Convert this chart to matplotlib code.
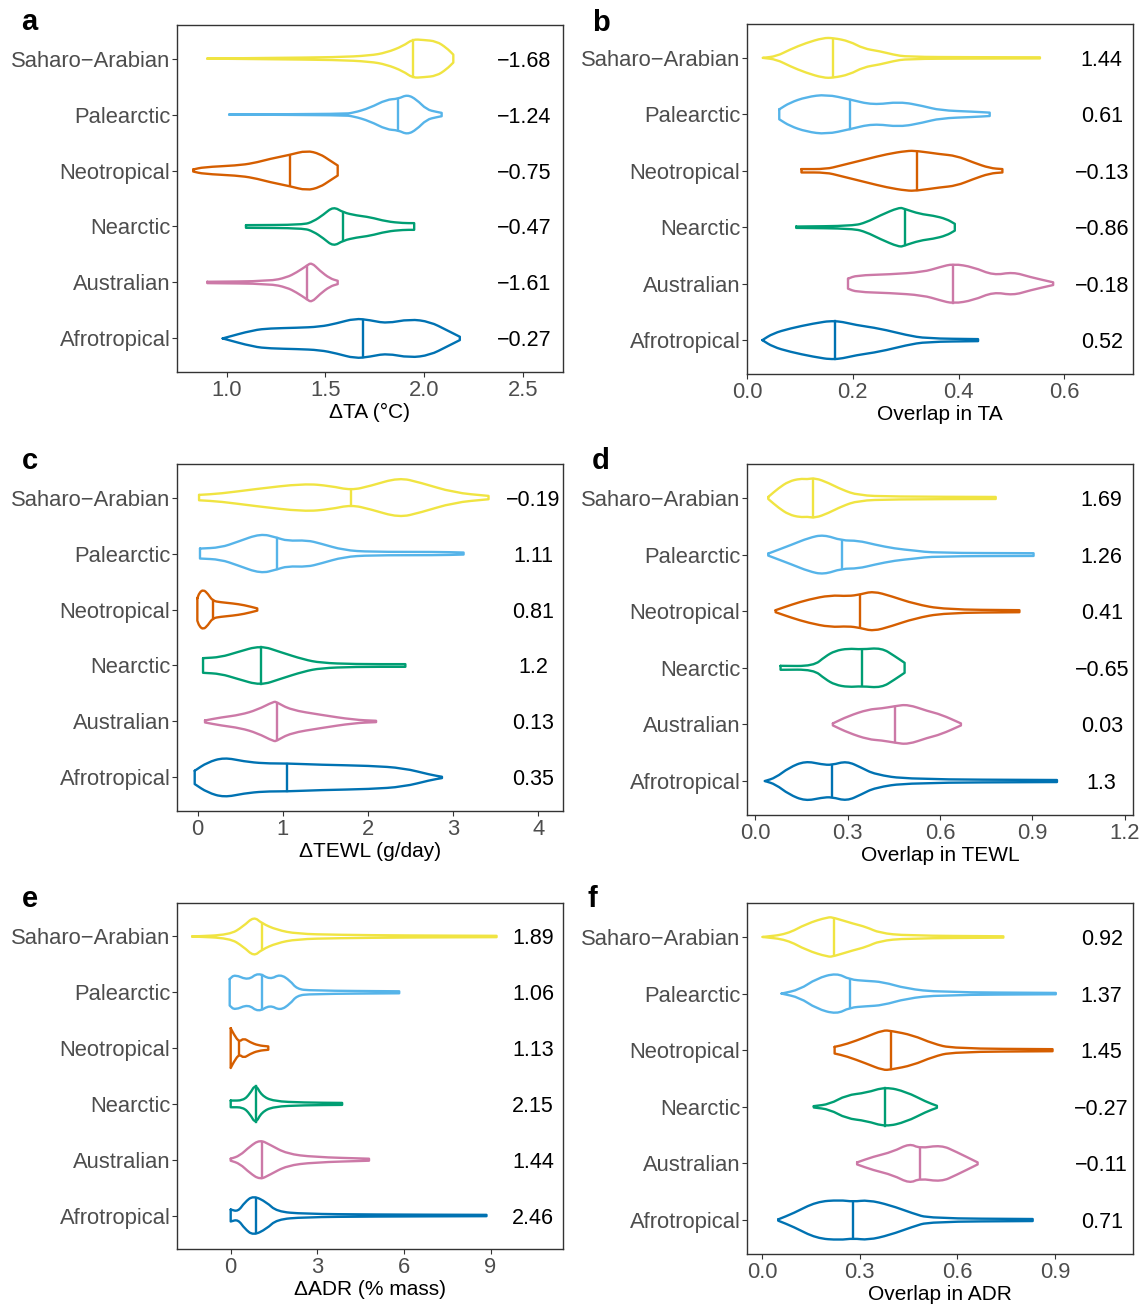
#!/usr/bin/env python3
"""
Violin panels (a-f): change in thermal/water traits and their overlap,
by zoogeographic region. Outlines only, median line, skewness on the right.
"""
import numpy as np
import matplotlib
matplotlib.use("Agg")
import matplotlib.pyplot as plt
from matplotlib.path import Path
from matplotlib.patches import PathPatch

plt.rcParams["font.family"] = ["Liberation Sans", "DejaVu Sans"]

W, H = 1144, 1304

# regions, top to bottom
REGIONS = ["Saharo\u2212Arabian", "Palearctic", "Neotropical", "Nearctic",
           "Australian", "Afrotropical"]
COLORS = ["#F0E442", "#56B4E9", "#D55E00", "#009E73", "#CC79A7", "#0072B2"]

# --- panel a: dTA ---
TA_X = [
    [0.902, 1.219, 1.556, 1.725, 1.809, 1.894, 1.941, 1.995, 2.062, 2.113, 2.147],
    [1.013, 1.590, 1.641, 1.725, 1.809, 1.868, 1.914, 1.961, 2.012, 2.062, 2.088],
    [0.831, 0.882, 1.051, 1.135, 1.219, 1.320, 1.405, 1.472, 1.523, 1.562],
    [1.098, 1.388, 1.438, 1.489, 1.540, 1.590, 1.658, 1.725, 1.809, 1.894, 1.949],
    [0.902, 1.219, 1.304, 1.354, 1.405, 1.430, 1.472, 1.523, 1.562],
    [0.980, 1.135, 1.219, 1.354, 1.472, 1.556, 1.649, 1.725, 1.809, 1.927, 2.029, 2.113, 2.180],
]
TA_W = [
    [0, 0.012, 0.024, 0.054, 0.107, 0.226, 0.345, 0.333, 0.31, 0.19, 0.071],
    [0, 0.012, 0.03, 0.119, 0.268, 0.28, 0.357, 0.268, 0.089, 0.048, 0.03],
    [0.018, 0.06, 0.09, 0.13, 0.208, 0.28, 0.357, 0.298, 0.179, 0.09],
    [0.024, 0.03, 0.089, 0.208, 0.357, 0.25, 0.196, 0.167, 0.089, 0.06, 0.06],
    [0.012, 0.024, 0.089, 0.179, 0.298, 0.357, 0.208, 0.071, 0.03],
    [0, 0.149, 0.179, 0.19, 0.208, 0.268, 0.357, 0.327, 0.268, 0.345, 0.298, 0.149, 0.03],
]
TA_MED = [1.944, 1.868, 1.320, 1.590, 1.408, 1.688]
TA_SKEW = ["\u22121.68", "\u22121.24", "\u22120.75", "\u22120.47", "\u22121.61", "\u22120.27"]

# --- panel b: overlap in TA ---
OTA_X = [
    [0.030, 0.056, 0.081, 0.112, 0.144, 0.163, 0.194, 0.220, 0.251, 0.276, 0.302, 0.428, 0.554],
    [0.061, 0.081, 0.112, 0.150, 0.194, 0.238, 0.289, 0.333, 0.365, 0.428, 0.459],
    [0.103, 0.150, 0.175, 0.226, 0.264, 0.302, 0.321, 0.365, 0.396, 0.428, 0.459, 0.483],
    [0.093, 0.201, 0.226, 0.251, 0.288, 0.298, 0.327, 0.352, 0.377, 0.393],
    [0.191, 0.207, 0.270, 0.333, 0.365, 0.390, 0.428, 0.466, 0.503, 0.535, 0.579],
    [0.029, 0.049, 0.081, 0.125, 0.166, 0.207, 0.251, 0.302, 0.339, 0.437],
]
OTA_W = [
    [0, 0.029, 0.147, 0.265, 0.353, 0.353, 0.294, 0.165, 0.118, 0.059, 0.018, 0.012, 0.01],
    [0.088, 0.206, 0.306, 0.353, 0.265, 0.165, 0.224, 0.147, 0.071, 0.047, 0.03],
    [0.03, 0.03, 0.088, 0.206, 0.294, 0.353, 0.353, 0.294, 0.265, 0.147, 0.047, 0.03],
    [0.012, 0.024, 0.088, 0.206, 0.353, 0.324, 0.235, 0.206, 0.147, 0.06],
    [0.088, 0.147, 0.165, 0.206, 0.294, 0.353, 0.294, 0.147, 0.206, 0.118, 0.024],
    [0, 0.118, 0.206, 0.294, 0.353, 0.265, 0.206, 0.088, 0.03, 0.018],
]
OTA_MED = [0.163, 0.194, 0.321, 0.298, 0.390, 0.166]
OTA_SKEW = ["1.44", "0.61", "\u22120.13", "\u22120.86", "\u22120.18", "0.52"]

# --- panel c: dTEWL ---
TEWL_X = [
    [0.016, 0.270, 0.661, 1.247, 1.560, 1.803, 2.029, 2.362, 2.616, 3.007, 3.417],
    [0.027, 0.270, 0.465, 0.739, 0.927, 1.052, 1.286, 1.443, 1.717, 2.029, 2.811, 3.124],
    [-0.004, 0.020, 0.066, 0.121, 0.175, 0.270, 0.407, 0.544, 0.700],
    [0.063, 0.270, 0.465, 0.739, 0.974, 1.247, 1.443, 1.834, 2.440],
    [0.086, 0.270, 0.504, 0.700, 0.895, 0.927, 1.091, 1.443, 1.834, 2.096],
    [-0.035, 0.113, 0.309, 0.544, 0.778, 1.044, 1.443, 2.029, 2.420, 2.733, 2.870],
]
TEWL_W = [
    [0.048, 0.071, 0.149, 0.25, 0.208, 0.131, 0.208, 0.357, 0.268, 0.089, 0.03],
    [0.089, 0.107, 0.208, 0.357, 0.286, 0.226, 0.238, 0.179, 0.06, 0.03, 0.03, 0.018],
    [0.2, 0.3, 0.357, 0.28, 0.155, 0.13, 0.11, 0.08, 0.02],
    [0.131, 0.149, 0.238, 0.357, 0.238, 0.107, 0.048, 0.024, 0.024],
    [0.018, 0.071, 0.119, 0.208, 0.357, 0.345, 0.208, 0.119, 0.03, 0.012],
    [0.119, 0.268, 0.357, 0.286, 0.25, 0.25, 0.226, 0.208, 0.167, 0.048, 0.012],
]
TEWL_MED = [1.803, 0.927, 0.175, 0.739, 0.927, 1.044]
TEWL_SKEW = ["\u22120.19", "1.11", "0.81", "1.2", "0.13", "0.35"]

# --- panel d: overlap in TEWL ---
OTEWL_X = [
    [0.042, 0.076, 0.109, 0.146, 0.168, 0.195, 0.238, 0.281, 0.334, 0.442, 0.781],
    [0.042, 0.119, 0.173, 0.222, 0.281, 0.334, 0.388, 0.453, 0.517, 0.582, 0.904],
    [0.066, 0.119, 0.173, 0.243, 0.302, 0.340, 0.383, 0.442, 0.517, 0.614, 0.858],
    [0.082, 0.189, 0.227, 0.259, 0.302, 0.345, 0.410, 0.453, 0.485],
    [0.252, 0.302, 0.367, 0.410, 0.455, 0.496, 0.560, 0.603, 0.668],
    [0.031, 0.066, 0.109, 0.162, 0.216, 0.248, 0.297, 0.345, 0.388, 0.496, 0.980],
]
OTEWL_W = [
    [0.018, 0.176, 0.294, 0.341, 0.33, 0.353, 0.265, 0.147, 0.047, 0.024, 0.018],
    [0.018, 0.176, 0.294, 0.353, 0.247, 0.247, 0.176, 0.106, 0.071, 0.03, 0.024],
    [0.018, 0.118, 0.206, 0.282, 0.265, 0.294, 0.353, 0.265, 0.129, 0.03, 0.018],
    [0.035, 0.03, 0.2, 0.3, 0.341, 0.324, 0.353, 0.206, 0.088],
    [0.018, 0.147, 0.265, 0.282, 0.324, 0.353, 0.235, 0.176, 0.018],
    [0, 0.059, 0.235, 0.353, 0.294, 0.282, 0.353, 0.235, 0.118, 0.03, 0.018],
]
OTEWL_MED = [0.187, 0.281, 0.340, 0.345, 0.455, 0.248]
OTEWL_SKEW = ["1.69", "1.26", "0.41", "\u22120.65", "0.03", "1.3"]

# --- panel e: dADR ---
ADR_X = [
    [-1.337, -0.035, 0.430, 0.802, 1.070, 1.593, 2.291, 3.686, 6.012, 9.209],
    [-0.035, 0.140, 0.605, 0.953, 1.360, 1.709, 2.058, 2.291, 2.756, 5.837],
    [0.0, 0.105, 0.291, 0.453, 0.663, 0.953, 1.302],
    [0.0, 0.430, 0.663, 0.860, 1.070, 1.477, 2.523, 3.860],
    [0.0, 0.314, 0.663, 1.012, 1.360, 1.942, 2.872, 4.791],
    [0.0, 0.256, 0.488, 0.779, 1.244, 1.593, 2.523, 4.849, 8.860],
]
ADR_W = [
    [0, 0.03, 0.179, 0.357, 0.238, 0.119, 0.048, 0.03, 0.018, 0.012],
    [0.238, 0.321, 0.214, 0.357, 0.226, 0.327, 0.208, 0.06, 0.03, 0.018],
    [0.357, 0.25, 0.107, 0.179, 0.107, 0.048, 0.03],
    [0.06, 0.06, 0.179, 0.357, 0.149, 0.048, 0.024, 0.018],
    [0.018, 0.071, 0.238, 0.357, 0.268, 0.107, 0.048, 0.018],
    [0.107, 0.071, 0.238, 0.357, 0.238, 0.071, 0.03, 0.018, 0.012],
]
ADR_MED = [1.070, 1.070, 0.291, 0.872, 1.070, 0.872]
ADR_SKEW = ["1.89", "1.06", "1.13", "2.15", "1.44", "2.46"]

# --- panel f: overlap in ADR ---
OADR_X = [
    [0.002, 0.076, 0.137, 0.203, 0.220, 0.280, 0.320, 0.361, 0.443, 0.741],
    [0.060, 0.116, 0.167, 0.229, 0.269, 0.320, 0.371, 0.443, 0.545, 0.902],
    [0.223, 0.259, 0.320, 0.371, 0.397, 0.463, 0.524, 0.586, 0.892],
    [0.159, 0.208, 0.259, 0.320, 0.379, 0.443, 0.504, 0.537],
    [0.292, 0.341, 0.402, 0.453, 0.484, 0.550, 0.596, 0.662],
    [0.050, 0.096, 0.167, 0.239, 0.280, 0.326, 0.392, 0.463, 0.514, 0.831],
]
OADR_W = [
    [0, 0.047, 0.235, 0.353, 0.341, 0.235, 0.176, 0.071, 0.024, 0.012],
    [0, 0.071, 0.265, 0.365, 0.247, 0.224, 0.206, 0.088, 0.024, 0.012],
    [0.059, 0.106, 0.235, 0.353, 0.341, 0.265, 0.118, 0.03, 0.018],
    [0.012, 0.047, 0.206, 0.247, 0.353, 0.265, 0.088, 0.018],
    [0.018, 0.118, 0.206, 0.353, 0.265, 0.324, 0.206, 0.018],
    [0.012, 0.118, 0.324, 0.353, 0.324, 0.353, 0.265, 0.118, 0.03, 0.018],
]
OADR_MED = [0.220, 0.269, 0.397, 0.379, 0.484, 0.280]
OADR_SKEW = ["0.92", "1.37", "1.45", "\u22120.27", "\u22120.11", "0.71"]

LW = 1.7
FS = 15


def smooth_edge(pts):
    # quadratic bezier through midpoints, knots act as control points
    verts = [pts[0], (pts[0] + pts[1]) / 2]
    codes = [Path.LINETO, Path.LINETO]
    for i in range(1, len(pts) - 1):
        verts += [pts[i], (pts[i] + pts[i + 1]) / 2]
        codes += [Path.CURVE3, Path.CURVE3]
    verts.append(pts[-1])
    codes.append(Path.LINETO)
    return verts, codes


def violin(ax, y0, xs, ws, med, color):
    xs = np.asarray(xs, float)
    ws = np.asarray(ws, float)
    top = np.column_stack([xs, y0 + ws])
    bot = np.column_stack([xs, y0 - ws])[::-1]
    v1, c1 = smooth_edge(top)
    v2, c2 = smooth_edge(bot)
    c1[0] = Path.MOVETO
    verts = v1 + v2 + [top[0]]
    codes = c1 + c2 + [Path.LINETO]
    ax.add_patch(PathPatch(Path(verts, codes), fill=False, edgecolor=color,
                           lw=LW, joinstyle="round", capstyle="round"))
    hw = np.interp(med, xs, ws) * 0.95
    ax.plot([med, med], [y0 - hw, y0 + hw], color=color, lw=LW)


def panel(rect, letter, lx, ly, X, Wd, MED, SKEW, xlim, ticks, ticklabels,
          xlabel, skew_x):
    l, t, r, b = rect
    ax = fig.add_axes([l / W, 1 - b / H, (r - l) / W, (b - t) / H])
    for i in range(6):
        y0 = 6 - i
        violin(ax, y0, X[i], Wd[i], MED[i], COLORS[i])
        ax.text(skew_x, y0, SKEW[i], transform=ax.get_yaxis_transform(),
                ha="center", va="center_baseline", fontsize=FS + 0.5,
                color="black")
    ax.set_xlim(*xlim)
    ax.set_ylim(0.4, 6.6)
    ax.set_yticks([6, 5, 4, 3, 2, 1])
    ax.set_yticklabels(REGIONS)
    ax.set_xticks(ticks)
    ax.set_xticklabels(ticklabels)
    ax.tick_params(axis="both", direction="out", length=3.5, width=0.8,
                   color="#333333", labelcolor="#4D4D4D", labelsize=FS + 0.8)
    ax.tick_params(axis="y", pad=1.2)
    ax.tick_params(axis="x", pad=2)
    ax.set_xlabel(xlabel, fontsize=FS, labelpad=2)
    for s in ax.spines.values():
        s.set_color("#333333")
        s.set_linewidth(1.0)
    fig.text(lx / W, 1 - ly / H, letter, fontsize=21, fontweight="bold",
             ha="center", va="baseline")
    return ax


fig = plt.figure(figsize=(W / 100, H / 100), dpi=100)

panel((177, 25, 563, 372), "a", 29, 30, TA_X, TA_W, TA_MED, TA_SKEW,
      (0.749, 2.702), [1.0, 1.5, 2.0, 2.5], ["1.0", "1.5", "2.0", "2.5"],
      "\u0394TA (\u00b0C)", 0.899)
panel((747, 24, 1133, 374), "b", 601, 31, OTA_X, OTA_W, OTA_MED, OTA_SKEW,
      (0.0, 0.730), [0.0, 0.2, 0.4, 0.6], ["0.0", "0.2", "0.4", "0.6"],
      "Overlap in TA", 0.919)
panel((177, 464, 563, 811), "c", 30, 469, TEWL_X, TEWL_W, TEWL_MED, TEWL_SKEW,
      (-0.243, 4.292), [0, 1, 2, 3, 4], ["0", "1", "2", "3", "4"],
      "\u0394TEWL (g/day)", 0.922)
panel((747, 464, 1133, 815), "d", 601, 469, OTEWL_X, OTEWL_W, OTEWL_MED,
      OTEWL_SKEW, (-0.027, 1.227), [0.0, 0.3, 0.6, 0.9, 1.2],
      ["0.0", "0.3", "0.6", "0.9", "1.2"], "Overlap in TEWL", 0.919)
panel((177, 903, 563, 1249), "e", 30, 907, ADR_X, ADR_W, ADR_MED, ADR_SKEW,
      (-1.86, 11.51), [0, 3, 6, 9], ["0", "3", "6", "9"],
      "\u0394ADR (% mass)", 0.922)
panel((747, 903, 1133, 1254), "f", 592, 907, OADR_X, OADR_W, OADR_MED,
      OADR_SKEW, (-0.046, 1.139), [0.0, 0.3, 0.6, 0.9],
      ["0.0", "0.3", "0.6", "0.9"], "Overlap in ADR", 0.919)

fig.savefig("out.png", dpi=100)
